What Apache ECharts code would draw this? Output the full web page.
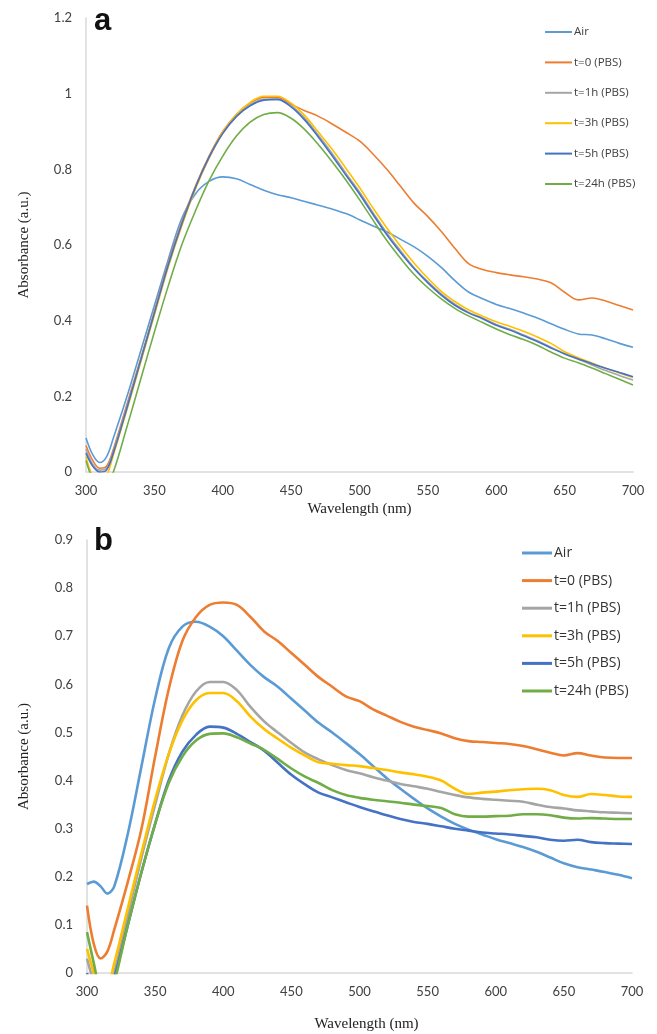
<!DOCTYPE html>
<html><head><meta charset="utf-8">
<script src="https://cdn.jsdelivr.net/npm/echarts@6/dist/echarts.min.js"></script>
<style>html,body{margin:0;padding:0;background:#fff}#c{width:657px;height:1034px}</style>
</head><body><div id="c"></div>
<script>
// Shared wavelength grid (nm)
const wavelengths = [300,305,310,315,320,
  330,340,350,360,370,380,390,400,410,420,
  430,440,450,460,470,480,490,500,510,520,
  530,540,550,560,570,580,590,600,610,620,
  630,640,650,660,670,680,690,700];

const seriesNames = ['Air','t=0 (PBS)','t=1h (PBS)','t=3h (PBS)','t=5h (PBS)','t=24h (PBS)'];
const colors = ['#5B9BD5','#ED7D31','#A5A5A5','#FFC000','#4472C4','#70AD47'];

// Panel a
const a_air = [0.09,0.045,0.025,0.04,0.09,
  0.2,0.32,0.44,0.56,0.67,0.735,0.768,0.78,0.775,0.76,
  0.745,0.733,0.725,0.715,0.705,0.695,0.683,0.667,0.65,0.635,
  0.615,0.595,0.57,0.54,0.505,0.475,0.458,0.443,0.432,0.42,
  0.407,0.392,0.377,0.365,0.362,0.352,0.34,0.33];
const a_t0 = [0.07,0.03,0.01,0.015,0.06,
  0.18,0.3,0.425,0.55,0.66,0.755,0.835,0.9,0.945,0.975,
  0.99,0.99,0.972,0.955,0.94,0.92,0.898,0.875,0.84,0.8,
  0.755,0.71,0.675,0.635,0.59,0.55,0.535,0.527,0.521,0.516,
  0.51,0.5,0.475,0.455,0.46,0.452,0.44,0.428];
const a_t1h = [0.06,0.02,0.005,0.01,0.055,
  0.175,0.295,0.42,0.545,0.655,0.75,0.83,0.895,0.94,0.97,
  0.985,0.985,0.968,0.935,0.89,0.842,0.79,0.74,0.685,0.632,
  0.585,0.54,0.503,0.47,0.443,0.422,0.407,0.39,0.377,0.362,
  0.347,0.33,0.313,0.298,0.283,0.268,0.255,0.243];
const a_t3h = [0.04,-0.01,-0.02,-0.01,0.045,
  0.165,0.29,0.415,0.54,0.65,0.748,0.83,0.898,0.945,0.977,
  0.993,0.993,0.975,0.942,0.898,0.853,0.803,0.752,0.697,0.645,
  0.597,0.552,0.512,0.477,0.45,0.428,0.412,0.397,0.385,0.372,
  0.357,0.34,0.318,0.302,0.288,0.274,0.262,0.25];
const a_t5h = [0.05,0.015,0.0,0.005,0.05,
  0.17,0.295,0.42,0.545,0.655,0.752,0.832,0.895,0.94,0.968,
  0.983,0.985,0.965,0.93,0.885,0.836,0.785,0.735,0.68,0.627,
  0.58,0.537,0.5,0.467,0.44,0.42,0.405,0.388,0.375,0.36,
  0.345,0.328,0.312,0.299,0.286,0.274,0.263,0.252];
const a_t24h = [0.03,-0.02,-0.04,-0.03,0.0,
  0.12,0.245,0.37,0.49,0.6,0.69,0.77,0.835,0.888,0.925,
  0.945,0.95,0.935,0.905,0.865,0.82,0.772,0.72,0.665,0.612,
  0.565,0.522,0.487,0.457,0.432,0.412,0.395,0.378,0.363,0.35,
  0.335,0.317,0.301,0.289,0.275,0.26,0.245,0.23];

// Panel b
const b_air = [0.185,0.19,0.18,0.165,0.18,
  0.29,0.43,0.57,0.675,0.72,0.73,0.72,0.7,0.67,0.64,
  0.615,0.595,0.57,0.545,0.52,0.5,0.478,0.455,0.43,0.405,
  0.383,0.362,0.342,0.325,0.31,0.298,0.288,0.278,0.27,0.262,
  0.252,0.24,0.228,0.22,0.215,0.21,0.204,0.197];
const b_t0 = [0.14,0.06,0.03,0.045,0.09,
  0.19,0.3,0.45,0.59,0.69,0.74,0.765,0.77,0.765,0.74,
  0.71,0.69,0.665,0.64,0.615,0.595,0.575,0.565,0.548,0.535,
  0.522,0.512,0.505,0.498,0.488,0.482,0.48,0.478,0.476,0.472,
  0.465,0.458,0.452,0.457,0.452,0.448,0.447,0.447];
const b_t1h = [0.03,-0.02,-0.06,-0.05,0.0,
  0.12,0.24,0.35,0.455,0.535,0.585,0.605,0.605,0.588,0.553,
  0.523,0.5,0.478,0.458,0.444,0.432,0.422,0.415,0.407,0.4,
  0.393,0.388,0.383,0.376,0.37,0.365,0.362,0.36,0.358,0.356,
  0.35,0.345,0.342,0.338,0.336,0.334,0.333,0.332];
const b_t3h = [0.05,0.0,-0.04,-0.03,0.02,
  0.135,0.25,0.36,0.455,0.525,0.567,0.582,0.582,0.565,0.533,
  0.507,0.487,0.468,0.452,0.438,0.435,0.432,0.43,0.426,0.422,
  0.417,0.413,0.408,0.4,0.383,0.372,0.375,0.377,0.38,0.382,
  0.383,0.38,0.37,0.366,0.372,0.37,0.367,0.366];
const b_t5h = [0.0,-0.05,-0.08,-0.05,-0.01,
  0.1,0.21,0.31,0.4,0.46,0.495,0.512,0.51,0.497,0.48,
  0.462,0.437,0.412,0.392,0.375,0.365,0.355,0.345,0.336,0.328,
  0.32,0.314,0.31,0.305,0.3,0.296,0.292,0.29,0.288,0.285,
  0.282,0.277,0.275,0.277,0.272,0.27,0.269,0.268];
const b_t24h = [0.085,0.02,-0.04,-0.06,-0.02,
  0.1,0.21,0.31,0.395,0.45,0.483,0.497,0.498,0.49,0.477,
  0.464,0.445,0.425,0.408,0.395,0.38,0.37,0.364,0.36,0.357,
  0.354,0.35,0.347,0.343,0.33,0.325,0.325,0.326,0.327,0.33,
  0.33,0.328,0.323,0.321,0.322,0.321,0.32,0.32];

const panelA = [a_air,a_t0,a_t1h,a_t3h,a_t5h,a_t24h];
const panelB = [b_air,b_t0,b_t1h,b_t3h,b_t5h,b_t24h];

const tickFont = {fontFamily:'Lato', fontSize:13, color:'#404040'};
const nameFont = {fontFamily:'Liberation Serif', fontSize:15, color:'#222'};
const axisLine = {show:true, lineStyle:{color:'#d9d9d9', width:1.5}};

function mkSeries(arr, idx, grid, width){
  return {
    name: seriesNames[idx], type:'line', xAxisIndex:grid, yAxisIndex:grid,
    data: wavelengths.map((w,i)=>[w, arr[i]]),
    smooth: 0.35, symbol:'none', showSymbol:false, clip:true,
    lineStyle:{color:colors[idx], width:width},
    itemStyle:{color:colors[idx]}
  };
}

const series = [];
panelA.forEach((arr,i)=>series.push(mkSeries(arr,i,0,1.6)));
panelB.forEach((arr,i)=>series.push(mkSeries(arr,i,1,2.6)));

const chart = echarts.init(document.getElementById('c'), null, {renderer:'canvas'});
chart.setOption({
  animation:false,
  backgroundColor:'#fff',
  grid:[
    {left:86, top:18, width:547, height:454},
    {left:87, top:540, width:545, height:433}
  ],
  xAxis:[
    {type:'value', gridIndex:0, min:300, max:700, interval:50,
     axisLine:axisLine, axisTick:{show:false}, splitLine:{show:false},
     axisLabel:Object.assign({margin:12}, tickFont),
     name:'Wavelength (nm)', nameLocation:'middle', nameGap:30, nameTextStyle:nameFont},
    {type:'value', gridIndex:1, min:300, max:700, interval:50,
     axisLine:axisLine, axisTick:{show:false}, splitLine:{show:false},
     axisLabel:Object.assign({margin:12}, tickFont),
     name:'Wavelength (nm)', nameLocation:'middle', nameGap:44,
     nameTextStyle:Object.assign({padding:[0,0,0,14]}, nameFont)}
  ],
  yAxis:[
    {type:'value', gridIndex:0, min:0, max:1.2, interval:0.2,
     axisLine:axisLine, axisTick:{show:false}, splitLine:{show:false},
     axisLabel:Object.assign({margin:14, formatter:v=>String(+v.toFixed(1))}, tickFont),
     name:'Absorbance (a.u.)', nameLocation:'middle', nameGap:54, nameTextStyle:nameFont},
    {type:'value', gridIndex:1, min:0, max:0.9, interval:0.1,
     axisLine:axisLine, axisTick:{show:false}, splitLine:{show:false},
     axisLabel:Object.assign({margin:14, formatter:v=>String(+v.toFixed(1))}, tickFont),
     name:'Absorbance (a.u.)', nameLocation:'middle', nameGap:55, nameTextStyle:nameFont}
  ],
  legend:[
    {orient:'vertical', left:545, top:25, padding:0, itemWidth:27, itemHeight:2, itemGap:16.4,
     icon:'rect', selectedMode:false, data:seriesNames,
     textStyle:{fontFamily:'Open Sans', fontSize:11.5, color:'#404040', lineHeight:14, padding:[0,0,0,-3]}},
    {orient:'vertical', left:522, top:545, padding:0, itemWidth:30, itemHeight:3, itemGap:11.6,
     icon:'rect', selectedMode:false, data:seriesNames,
     textStyle:{fontFamily:'Open Sans', fontSize:14, color:'#333', lineHeight:16, padding:[0,0,0,-3]}}
  ],
  graphic:[
    {type:'text', left:94, top:6, style:{text:'a', font:'bold 31px "Liberation Sans", Arial', fill:'#111'}},
    {type:'text', left:94, top:526, style:{text:'b', font:'bold 31px "Liberation Sans", Arial', fill:'#111'}}
  ],
  series: series
});
</script>
</body></html>
